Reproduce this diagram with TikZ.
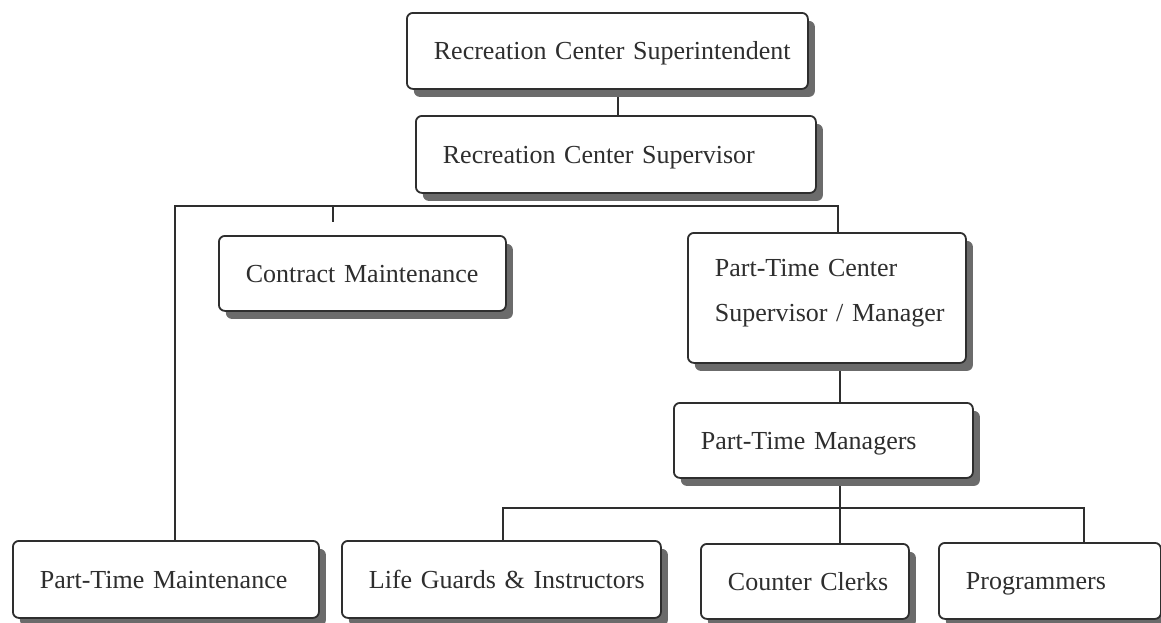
\documentclass[tikz,border=0pt]{standalone}
\usepackage{fontspec}
\setmainfont{Liberation Serif}
\usetikzlibrary{shadows,backgrounds}
\definecolor{ink}{gray}{0.18}
\definecolor{shade}{gray}{0.42}
\tikzset{
  orgbox/.style={draw=ink, line width=1.8pt, rounded corners=6pt, fill=white,
    anchor=north west, inner xsep=27pt, inner ysep=0pt, align=left,
    text=ink, font=\fontsize{26}{45}\selectfont,
    text height=17.5pt, text depth=0pt,
    drop shadow={shadow xshift=7pt, shadow yshift=-8pt, opacity=1, fill=shade}},
  wire/.style={draw=ink, line width=1.8pt},
}
\begin{document}
\begin{tikzpicture}[x=1pt, y=-1pt]
  \useasboundingbox (0,0) rectangle (1161,622);

  % boxes
  \node[orgbox, minimum width=401pt, minimum height=76pt, text width=347pt] (sup) at (406,12)
    {\mbox{Recreation Center Superintendent}};
  \node[orgbox, minimum width=400pt, minimum height=77pt, text width=346pt] (svr) at (415,115)
    {\mbox{Recreation Center Supervisor}};
  \node[orgbox, minimum width=287pt, minimum height=75pt, text width=233pt] (cm) at (218,235)
    {\mbox{Contract Maintenance}};
  \node[orgbox, minimum width=278pt, minimum height=130pt, text width=224pt, text depth=61pt] (ptc) at (687,232)
    {\mbox{Part-Time Center}\\\mbox{Supervisor / Manager}};
  \node[orgbox, minimum width=299pt, minimum height=75pt, text width=245pt] (ptm) at (673,402)
    {\mbox{Part-Time Managers}};
  \node[orgbox, minimum width=306pt, minimum height=77pt, text width=252pt] (maint) at (12,540)
    {\mbox{Part-Time Maintenance}};
  \node[orgbox, minimum width=319pt, minimum height=77pt, text width=265pt] (life) at (341,540)
    {\mbox{Life Guards \& Instructors}};
  \node[orgbox, minimum width=208pt, minimum height=75pt, text width=154pt] (clerk) at (700,543)
    {\mbox{Counter Clerks}};
  \node[orgbox, minimum width=222pt, minimum height=76pt, text width=168pt] (prog) at (938,542)
    {\mbox{Programmers}};

  % junction points of the connectors
  \coordinate (topx) at (618,100);
  \coordinate (busL) at (175,206);
  \coordinate (busR) at (838,206);
  \coordinate (tick) at (333,222);
  \coordinate (trunk) at (840,508);
  \coordinate (lowL) at (503,508);
  \coordinate (lowR) at (1084,508);

  \begin{scope}[on background layer]
    \fill[white] (0,0) rectangle (1161,622);
    \draw[wire] (topx |- sup.south) -- (topx |- svr.north);
    \draw[wire] (busL |- maint.north) -- (busL) -- (busR) -- (busR |- ptc.north);
    \draw[wire] (tick |- busL) -- (tick);
    \draw[wire] (trunk |- ptc.south) -- (trunk |- ptm.north);
    \draw[wire] (trunk |- ptm.south) -- (trunk |- clerk.north);
    \draw[wire] (lowL |- life.north) -- (lowL) -- (lowR) -- (lowR |- prog.north);
  \end{scope}
\end{tikzpicture}
\end{document}
